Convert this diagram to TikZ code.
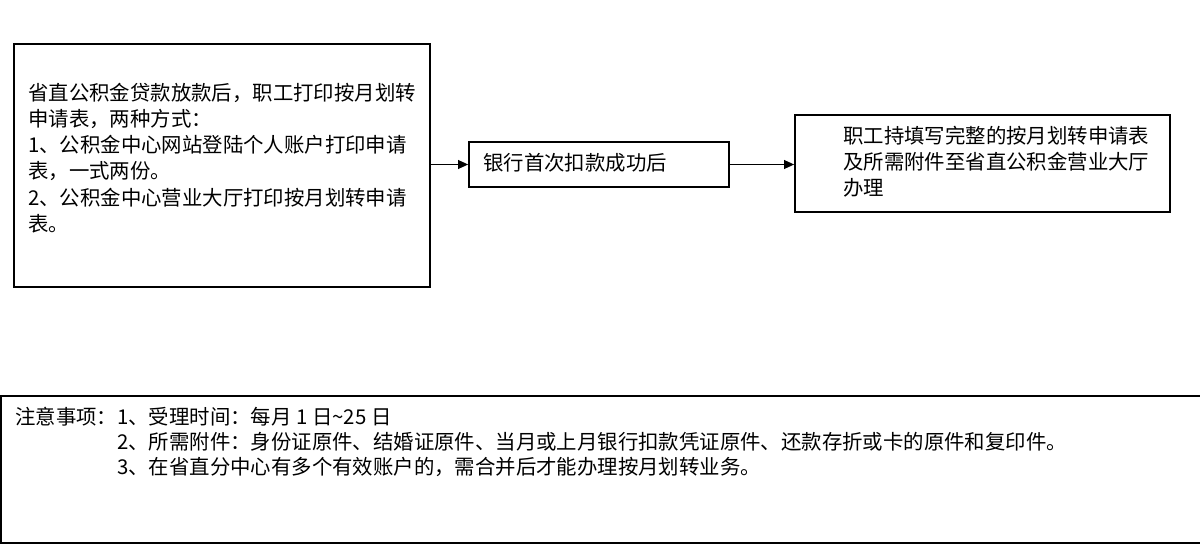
\documentclass[tikz,border=0pt]{standalone}
\usepackage{fontspec}
\newfontfamily\cjk{Noto Sans CJK SC}
\usepackage{tikz}
\usetikzlibrary{arrows.meta, positioning}

\tikzset{
  stepbox/.style={draw, rectangle, line width=1.2pt, inner sep=0pt},
  flow/.style={line width=1.1pt, -{Triangle[length=7.5pt,width=6.5pt]}},
  boxtext/.style={inner sep=0pt, align=left, font=\cjk\fontsize{15.3}{19.6}\selectfont}
}

\begin{document}
\begin{tikzpicture}[x=0.75pt,y=-0.75pt]
			\useasboundingbox (0,0) rectangle (1200,549);

			%Shape: Rectangle [apply]
			\node [stepbox, minimum width=312pt, minimum height=182.25pt] (apply) at (222,165.5) {};
			%Shape: Rectangle [bank]
			\node [stepbox, minimum width=195pt, minimum height=33.75pt] (bank) at (599,164.5) {};
			%Shape: Rectangle [handle]
			\node [stepbox, minimum width=281.25pt, minimum height=72.75pt] (handle) at (982.5,163.5) {};
			%Shape: Rectangle [notes]
			\node [stepbox, minimum width=906.75pt, minimum height=110.25pt] (notes) at (605.5,469.5) {};

			%Straight Lines
			\draw [flow] (apply.east |- bank.west) -- (bank.west);
			%Straight Lines
			\draw [flow] (bank.east) -- (handle.west |- bank.east);

			% Text Node
			\node [boxtext, anchor=north west] (applytext) at (28,83) {省直公积金贷款放款后，职工打印按月划转\\申请表，两种方式：\\1、公积金中心网站登陆个人账户打印申请\\表，一式两份。\\2、公积金中心营业大厅打印按月划转申请\\表。};
			% Text Node
			\node [boxtext, anchor=west] (banktext) at (483,163) {银行首次扣款成功后};
			% Text Node
			\node [boxtext, anchor=north west] (handletext) at (843,126) {职工持填写完整的按月划转申请表\\及所需附件至省直公积金营业大厅\\办理};
			% Text Node
			\node [boxtext, anchor=north west, font=\cjk\fontsize{15.3}{18.8}\selectfont] (notestext) at (15,407) {注意事项：1、受理时间：每月 1 日\textasciitilde 25 日\\\phantom{注意事项：}2、所需附件：身份证原件、结婚证原件、当月或上月银行扣款凭证原件、还款存折或卡的原件和复印件。\\\phantom{注意事项：}3、在省直分中心有多个有效账户的，需合并后才能办理按月划转业务。};

\end{tikzpicture}
\end{document}
